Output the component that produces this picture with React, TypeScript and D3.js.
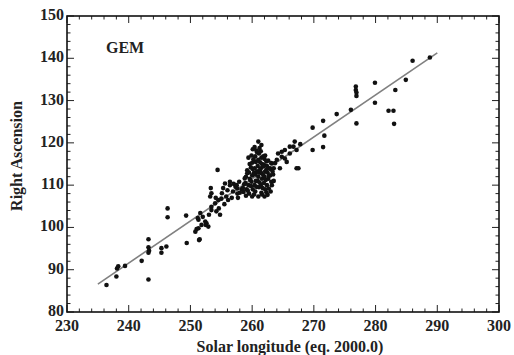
import React from "react";
import * as d3 from "d3";

const xTicks = [230, 240, 250, 260, 270, 280, 290, 300];
const yTicks = [80, 90, 100, 110, 120, 130, 140, 150];
const fitLine = [
  [235, 86.6],
  [290, 141.3],
];
const solarLongitude = [
  236.4, 238.0, 238.1, 238.3, 239.4, 242.1, 243.2, 243.2, 243.3, 243.2, 243.2, 245.3, 245.3, 246.1,
  246.3, 246.3, 249.3, 249.4, 251.4, 251.5, 251.3, 251.0, 251.3, 251.6, 251.2, 251.8, 252.4, 252.6,
  252.5, 252.9, 253.2, 253.4, 253.3, 253.4, 253.4, 254.0, 254.5, 254.6, 254.8, 254.4, 255.1, 255.3,
  255.6, 255.8, 256.1, 256.4, 256.4, 256.9, 257.3, 257.6, 258.3, 257.5, 257.7, 257.6, 256.7, 255.5,
  254.2, 252.0, 253.0, 250.8,
  259.0, 259.1, 258.9, 259.0, 259.2,
  259.5, 259.4, 259.6, 259.5, 259.6, 259.4,
  260.0, 260.1, 259.9, 260.0, 260.1, 260.0, 259.9, 260.1,
  260.5, 260.4, 260.6, 260.5, 260.4, 260.6, 260.5, 260.4,
  261.0, 261.1, 260.9, 261.0, 261.1, 260.9, 261.0, 261.1, 261.0,
  261.5, 261.4, 261.6, 261.5, 261.4, 261.6, 261.5, 261.4, 261.5,
  262.0, 262.1, 261.9, 262.0, 262.1, 261.9, 262.0, 262.1,
  262.5, 262.4, 262.6, 262.5, 262.4, 262.6,
  263.0, 263.1, 262.9, 263.0, 263.1,
  263.5, 263.4, 263.5,
  259.3, 259.7, 259.8, 260.2, 260.3, 260.7, 260.8, 260.8, 261.2, 261.3, 261.3, 261.7, 261.8, 261.8,
  261.8, 262.2, 262.3, 262.3, 262.7, 262.7, 262.8, 263.2, 263.3, 261.2, 260.7, 259.8, 260.3, 261.6,
  262.3, 258.7, 258.6, 258.8, 259.2, 258.5,
  256.0, 257.0, 257.9, 258.0, 255.0, 254.1,
  263.7, 264.0, 264.2, 264.5, 264.8, 264.8, 265.3, 265.3, 265.6, 266.1, 266.1, 266.7, 266.9, 267.2,
  267.2, 267.5, 267.8, 269.8, 269.8, 271.5, 271.7, 271.5, 273.7, 276.0, 276.9, 276.8, 276.8, 276.9,
  276.9, 279.9, 279.9, 282.1, 282.9, 283.0, 283.2, 284.9, 286.0, 288.8,
];
const rightAscension = [
  86.4, 88.4, 90.3, 90.8, 90.9, 92.1, 97.2, 95.3, 94.5, 94.0, 87.7, 95.1, 94.0, 95.5,
  104.5, 102.4, 102.8, 96.3, 97.0, 97.2, 99.8, 99.6, 101.8, 103.4, 102.2, 100.6, 101.4, 101.0,
  100.6, 100.2, 107.3, 108.1, 109.3, 104.9, 104.1, 105.7, 106.5, 104.5, 103.0, 113.6, 108.1, 109.3,
  110.4, 107.3, 106.5, 110.8, 110.0, 108.5, 109.6, 108.0, 109.0, 110.0, 107.0, 109.2, 107.0, 105.5,
  103.8, 102.5, 103.0, 99.0,
  107.5, 109.0, 110.5, 112.0, 113.5,
  108.0, 110.0, 111.5, 113.0, 115.0, 116.5,
  107.3, 109.0, 110.8, 112.3, 113.8, 115.3, 117.0, 118.5,
  108.5, 110.0, 111.0, 112.5, 114.0, 115.5, 116.8, 119.0,
  107.3, 109.5, 111.0, 112.0, 113.0, 114.5, 116.0, 117.5, 120.3,
  108.2, 110.0, 111.5, 112.8, 114.0, 115.0, 116.5, 118.0, 119.5,
  107.3, 109.0, 110.5, 112.0, 113.2, 114.8, 116.2, 117.0,
  107.7, 110.0, 111.5, 113.0, 114.5, 115.8,
  108.5, 110.8, 112.3, 113.8, 115.2,
  111.0, 112.5, 114.0,
  108.7, 111.2, 114.2, 116.1, 112.9, 109.6, 113.3, 117.8, 110.6, 113.6, 115.4, 109.3, 112.4, 114.4,
  116.8, 111.2, 113.6, 115.6, 109.2, 112.2, 114.0, 110.0, 113.2, 118.8, 118.2, 109.8, 107.8, 107.8,
  108.3, 110.2, 108.4, 111.6, 112.8, 109.3,
  108.8, 110.3, 110.8, 108.2, 106.8, 107.0,
  115.2, 116.0, 117.5, 114.0, 117.9, 116.7, 118.3, 116.3, 115.5, 119.1, 117.5, 119.1, 120.3, 118.3,
  114.0, 114.0, 119.7, 123.6, 118.3, 125.2, 121.7, 119.0, 126.8, 127.8, 124.6, 133.3, 132.5, 131.9,
  131.1, 134.2, 129.5, 127.6, 127.6, 124.5, 132.5, 134.9, 139.4, 140.2,
];

const W = 514;
const H = 355;
const left = 67;
const right = 499;
const top = 16;
const bottom = 312;
const font = "'Liberation Serif', 'Times New Roman', serif";

export default function App() {
  const x = d3.scaleLinear().domain([230, 300]).range([left, right]);
  const y = d3.scaleLinear().domain([80, 150]).range([bottom, top]);
  const minorX = d3.range(230, 300.001, 2);
  const minorY = d3.range(80, 150.001, 2);
  const line = d3
    .line<number[]>()
    .x((d) => x(d[0]))
    .y((d) => y(d[1]));
  const majorLen = 7;
  const minorLen = 3.5;
  return (
    <div style={{ position: "fixed", left: 0, top: 0 }}>
      <svg width={W} height={H} style={{ display: "block", background: "#fff" }}>
        {minorX.map((v) => {
          const major = v % 10 === 0;
          const len = major ? majorLen : minorLen;
          return (
            <g key={"x" + v}>
              <line x1={x(v)} x2={x(v)} y1={bottom} y2={bottom - len} stroke="#222" strokeWidth={1} />
              <line x1={x(v)} x2={x(v)} y1={top} y2={top + len} stroke="#222" strokeWidth={1} />
            </g>
          );
        })}
        {minorY.map((v) => {
          const major = v % 10 === 0;
          const len = major ? majorLen : minorLen;
          return (
            <g key={"y" + v}>
              <line x1={left} x2={left + len} y1={y(v)} y2={y(v)} stroke="#222" strokeWidth={1} />
              <line x1={right} x2={right - len} y1={y(v)} y2={y(v)} stroke="#222" strokeWidth={1} />
            </g>
          );
        })}
        <rect x={left} y={top} width={right - left} height={bottom - top} fill="none" stroke="#111" strokeWidth={1.6} />
        {xTicks.map((v) => (
          <text key={"xt" + v} x={x(v)} y={bottom + 19} textAnchor="middle" fontFamily={font} fontWeight="bold" fontSize={16} fill="#222">
            {v}
          </text>
        ))}
        {yTicks.map((v) => (
          <text key={"yt" + v} x={left - 3} y={y(v) + 4} textAnchor="end" fontFamily={font} fontWeight="bold" fontSize={16} fill="#222">
            {v}
          </text>
        ))}
        <text x={(left + right) / 2 + 7} y={352} textAnchor="middle" fontFamily={font} fontWeight="bold" fontSize={16} fill="#222">
          Solar longitude (eq. 2000.0)
        </text>
        <text transform={`translate(22,156) rotate(-90)`} textAnchor="middle" fontFamily={font} fontWeight="bold" fontSize={16} fill="#222">
          Right Ascension
        </text>
        <text x={106} y={53} fontFamily={font} fontWeight="bold" fontSize={16} fill="#222">
          GEM
        </text>
        <path d={line(fitLine) || ""} fill="none" stroke="#808080" strokeWidth={1.6} />
        {solarLongitude.map((v, i) => (
          <circle key={"p" + i} cx={x(v)} cy={y(rightAscension[i])} r={2.3} fill="#111" />
        ))}
      </svg>
    </div>
  );
}
